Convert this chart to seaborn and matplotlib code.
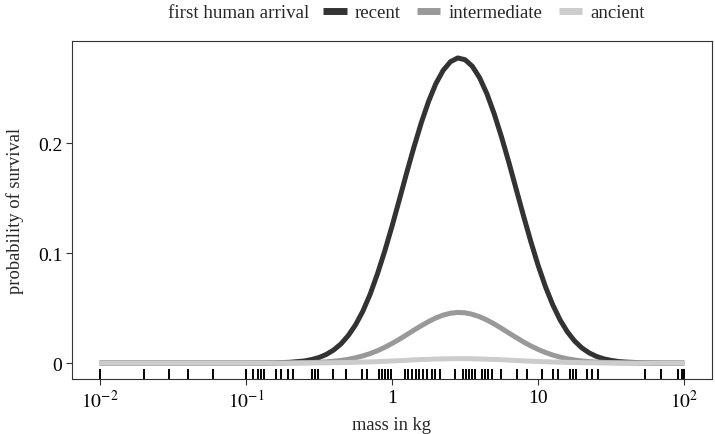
import matplotlib
matplotlib.use("Agg")
import matplotlib.pyplot as plt
import numpy as np
import pandas as pd
import seaborn as sns
from matplotlib.lines import Line2D


log_mass = [
    -2.0, -1.8, -1.6, -1.4, -1.2, -1.0, -0.8, -0.7,
    -0.6, -0.55, -0.5, -0.45, -0.4, -0.35, -0.3, -0.25, -0.2, -0.15,
    -0.1, -0.05, 0.0, 0.05, 0.1, 0.15, 0.2, 0.25, 0.3, 0.35,
    0.4, 0.45, 0.5, 0.55, 0.6, 0.65, 0.7, 0.75, 0.8, 0.85,
    0.9, 0.95, 1.0, 1.05, 1.1, 1.15, 1.2, 1.25, 1.3, 1.35,
    1.4, 1.45, 1.5, 1.55, 1.6, 1.7, 1.8, 1.9, 2.0,
]

surv_recent = [
    0.0, 0.0, 0.0, 0.0, 0.0, 0.0, 0.0002, 0.0007,
    0.0019, 0.0032, 0.0050, 0.0078, 0.0118, 0.0173, 0.0249, 0.0346, 0.0470, 0.0624,
    0.0809, 0.1016, 0.1243, 0.1483, 0.1727, 0.1962, 0.2182, 0.2377, 0.2539, 0.2660,
    0.2739, 0.2773, 0.2757, 0.2697, 0.2592, 0.2446, 0.2263, 0.2053, 0.1823, 0.1580,
    0.1338, 0.1105, 0.0888, 0.0695, 0.0530, 0.0393, 0.0284, 0.0200, 0.0137, 0.0092,
    0.0060, 0.0038, 0.0024, 0.0014, 0.0009, 0.0003, 0.0001, 0.0, 0.0,
]

surv_intermediate = [
    0.0, 0.0, 0.0, 0.0, 0.0, 0.0, 0.0, 0.0001,
    0.0003, 0.0005, 0.0007, 0.0011, 0.0017, 0.0024, 0.0034, 0.0048, 0.0065, 0.0086,
    0.0112, 0.0143, 0.0178, 0.0216, 0.0257, 0.0299, 0.0339, 0.0377, 0.0410, 0.0436,
    0.0453, 0.0460, 0.0457, 0.0443, 0.0421, 0.0391, 0.0355, 0.0315, 0.0273, 0.0232,
    0.0192, 0.0156, 0.0124, 0.0096, 0.0073, 0.0054, 0.0039, 0.0028, 0.0019, 0.0013,
    0.0009, 0.0006, 0.0004, 0.0002, 0.0001, 0.0, 0.0, 0.0, 0.0,
]

surv_ancient = [
    0.0, 0.0, 0.0, 0.0, 0.0, 0.0, 0.0, 0.0,
    0.0001, 0.0001, 0.0002, 0.0002, 0.0003, 0.0004, 0.0005, 0.0007, 0.0009, 0.0011,
    0.0013, 0.0016, 0.0019, 0.0022, 0.0025, 0.0029, 0.0032, 0.0034, 0.0037, 0.0038,
    0.0039, 0.0040, 0.0040, 0.0039, 0.0037, 0.0035, 0.0033, 0.0030, 0.0027, 0.0023,
    0.0020, 0.0017, 0.0014, 0.0012, 0.0010, 0.0008, 0.0006, 0.0005, 0.0003, 0.0003,
    0.0002, 0.0001, 0.0001, 0.0001, 0.0, 0.0, 0.0, 0.0, 0.0,
]

# observed species masses (kg), shown as rug
rug_mass = [
    0.01, 0.02, 0.03, 0.04, 0.06, 0.10, 0.112, 0.121, 0.127, 0.133,
    0.16, 0.174, 0.194, 0.21, 0.283, 0.297, 0.311, 0.394, 0.484, 0.623,
    0.674, 0.815, 0.855, 0.896, 0.939, 0.984, 1.23, 1.29, 1.37, 1.46,
    1.53, 1.63, 1.74, 1.88, 1.97, 2.13, 2.70, 3.06, 3.21, 3.37,
    3.53, 3.70, 4.13, 4.33, 4.54, 4.84, 5.58, 7.18, 8.41, 10.6,
    12.7, 13.7, 16.6, 17.4, 18.2, 21.7, 23.4, 25.8, 54.1, 69.5,
    90.9, 96.9, 100.0,
]

arrival_levels = ["recent", "intermediate", "ancient"]
arrival_colors = ["#333333", "#999999", "#cccccc"]

mass = [10 ** v for v in log_mass]
df = pd.DataFrame(
    {
        "mass": mass * 3,
        "survival": surv_recent + surv_intermediate + surv_ancient,
        "arrival": ["recent"] * len(mass) + ["intermediate"] * len(mass) + ["ancient"] * len(mass),
    }
)

sns.set_theme(style="white")
plt.rcParams.update(
    {
        "font.family": ["Liberation Serif", "DejaVu Serif"],
        "mathtext.fontset": "stix",
        "font.size": 12,
        "axes.edgecolor": "#333333",
        "axes.linewidth": 0.8,
    }
)

fig = plt.figure(figsize=(7.15, 4.35), dpi=100)
ax = fig.add_axes([0.1007, 0.1264, 0.8951, 0.777])
ax.set_xscale("log")

palette = dict(zip(arrival_levels, arrival_colors))
# ancient drawn last so its pale line sits on top along the baseline
sns.lineplot(
    data=df,
    x="mass",
    y="survival",
    hue="arrival",
    hue_order=arrival_levels,
    palette=palette,
    linewidth=3.6,
    legend=False,
    ax=ax,
)
for line in ax.lines:
    line.set_solid_capstyle("butt")
sns.rugplot(x=rug_mass, height=0.03, color="black", linewidth=1.4, ax=ax)

ax.set_xlim(10 ** -2.19, 10 ** 2.19)
ax.set_ylim(-0.0145, 0.2927)
ax.set_xticks([0.01, 0.1, 1, 10, 100])
ax.set_xticklabels([r"$10^{-2}$", r"$10^{-1}$", "1", "10", r"$10^{2}$"])
ax.minorticks_off()
ax.set_yticks([0, 0.1, 0.2])
ax.set_yticklabels(["0", "0.1", "0.2"])
ax.tick_params(axis="both", which="major", direction="out", length=4, width=0.8,
               color="#333333", labelsize=14, labelcolor="black", pad=3,
               bottom=True, left=True)
ax.set_xlabel("mass in kg", fontsize=13.3, labelpad=4)
ax.set_ylabel("probability of survival", fontsize=13.3, labelpad=10)

handles = [Line2D([0], [0], color=c, lw=5, solid_capstyle="butt") for c in arrival_colors]
fig.text(0.235, 0.968, "first human arrival", fontsize=13.7, va="center", ha="left")
fig.legend(
    handles,
    arrival_levels,
    loc="center left",
    bbox_to_anchor=(0.452, 0.968),
    ncol=3,
    frameon=False,
    fontsize=13.5,
    handlelength=1.25,
    handletextpad=0.45,
    columnspacing=0.85,
    borderpad=0,
    borderaxespad=0,
)

fig.savefig("out.png", dpi=100, facecolor="white")
